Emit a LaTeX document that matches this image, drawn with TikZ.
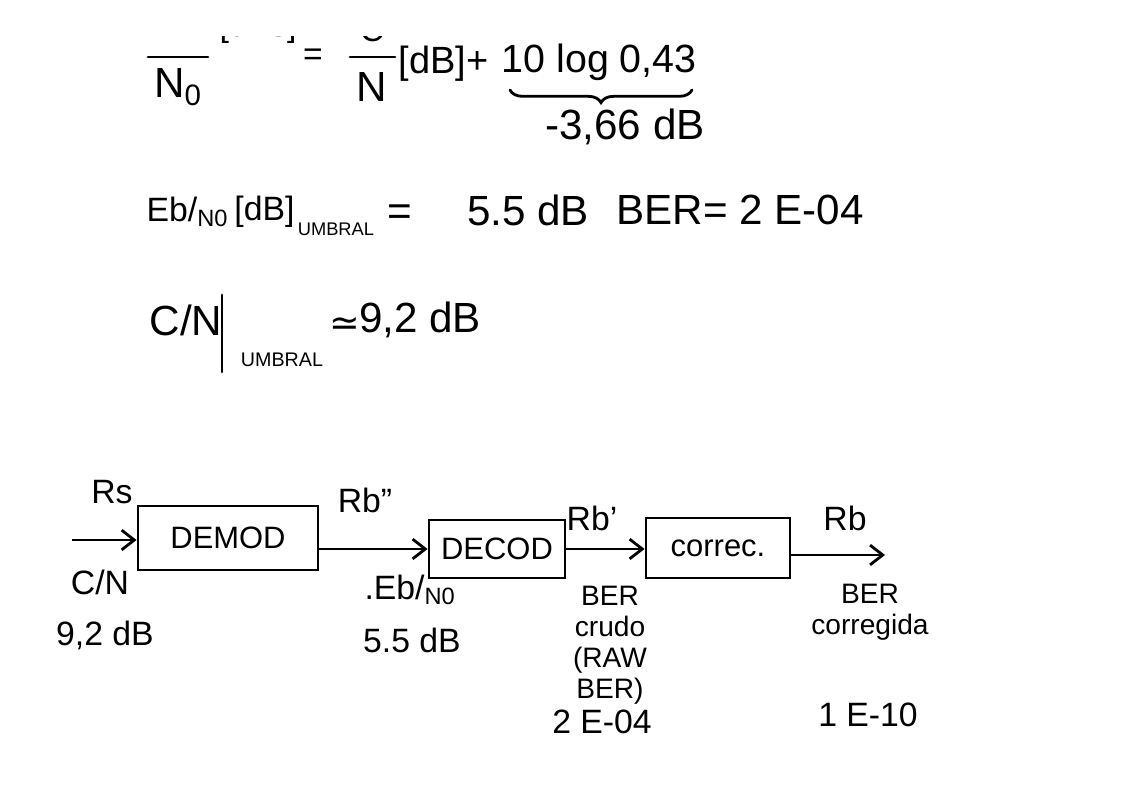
\documentclass[tikz,border=0pt]{standalone}
\usepackage{fontspec}
\setmainfont{Liberation Sans}
\newfontfamily\symfam{DejaVu Sans}
\usetikzlibrary{arrows.meta,positioning,decorations.pathreplacing}
\tikzset{
  big/.style={font=\fontsize{30}{34}\selectfont, inner sep=1pt},
  mid/.style={font=\fontsize{24}{28}\selectfont, inner sep=1pt},
  lbl/.style={font=\fontsize{20}{22}\selectfont, inner sep=1pt, align=center},
  tiny/.style={font=\fontsize{14}{16}\selectfont, inner sep=1pt},
  stroke/.style={line width=2pt, line cap=round},
  blockbox/.style={draw, line width=2pt, font=\fontsize{22}{26}\selectfont},
  sig/.style={line width=2pt, -{Straight Barb[length=9pt,width=14pt]}}
}
\begin{document}
\begin{tikzpicture}[x=0.025cm,y=-0.025cm]
  \useasboundingbox (0,0) rectangle (1122,793);
  % first line, numerators cut off at the top
  \begin{scope}
    \clip (0,37) rectangle (1122,793);
    \node[mid] (dbcut) at (258,28) {[dBs]};
    \node[mid] (ccut) at (372,30) {C};
  \end{scope}
  \draw[stroke] (148,57) -- (208,57);
  \node[big] (nzero) at (178,87) {N\textsubscript{0}};
  \node[mid] (eqa) at (313,57) {=};
  \draw[stroke] (350,57) -- (395,57);
  \node[big] (nn) at (372,87) {N};
  \node[font=\fontsize{27}{30}\selectfont, inner sep=1pt, anchor=east] (dba) at (490,64) {[dB]+};
  \node[font=\fontsize{28}{32}\selectfont, inner sep=1pt, anchor=west] (logt) at (500,62) {10 log 0,43};
  \draw[stroke, decorate, decoration={brace, mirror, amplitude=9pt}] (510,90) -- (692,90);
  \node[big] (loss) at (625,127) {-3,66 dB};
  % threshold values
  \node[mid, anchor=west] (ebno) at (145,212) {Eb/\textsubscript{N0}};
  \node[mid, right=2pt of ebno.east, anchor=west] (dbb) {[dB]};
  \node[font=\fontsize{13}{15}\selectfont, inner sep=1pt, anchor=south west] (umb1) at ([yshift=-6pt]dbb.south east) {UMBRAL};
  \node[big] (eqb) at (400,215) {=};
  \node[big] (ebval) at (528,210) {5.5 dB};
  \node[big] (berval) at (740,210) {BER= 2 E-04};
  \node[big] (cn) at (186,320) {C/N};
  \draw[stroke] (222,295) -- (222,372);
  \node[tiny] (umb2) at (282,360) {UMBRAL};
  \node[font=\symfam\fontsize{26}{30}\selectfont, inner sep=1pt] (approx) at (345,326) {≃};
  \node[big] (cnval) at (420,320) {9,2 dB};
  % receiver chain
  \coordinate (in) at (72,540);
  \node[blockbox, minimum width=4.5cm, minimum height=1.6cm] (demod) at (228,538) {DEMOD};
  \node[blockbox, minimum width=3.4cm, minimum height=1.45cm] (decod) at (497,549) {DECOD};
  \node[blockbox, minimum width=3.6cm, minimum height=1.5cm] (correc) at (718,548) {correc.};
  \coordinate (out) at (885,555);
  \draw[sig] (in) -- (demod.west |- in);
  \draw[sig] (demod.east |- decod) -- (decod);
  \draw[sig] (decod) -- (correc.west |- decod);
  \draw[sig] (correc.east |- out) -- (out);
  % labels
  \node[mid] (rs) at (112,492) {Rs};
  \node[mid] (cnin) at (100,582) {C/N};
  \node[mid] (cnin2) at (105,635) {9,2 dB};
  \node[mid] (rbpp) at (365,500) {Rb''};
  \node[mid] (ebout) at (410,590) {.Eb/\textsubscript{N0}};
  \node[mid] (ebout2) at (412,640) {5.5 dB};
  \node[mid] (rbp) at (592,518) {Rb'};
  \node[lbl] (raw) at (610,645) {BER\\crudo\\(RAW\\BER)};
  \node[mid] (raw2) at (602,722) {2 E-04};
  \node[mid] (rb) at (845,518) {Rb};
  \node[lbl] (corr) at (870,612) {BER\\corregida};
  \node[mid] (corr2) at (868,715) {1 E-10};
\end{tikzpicture}
\end{document}
